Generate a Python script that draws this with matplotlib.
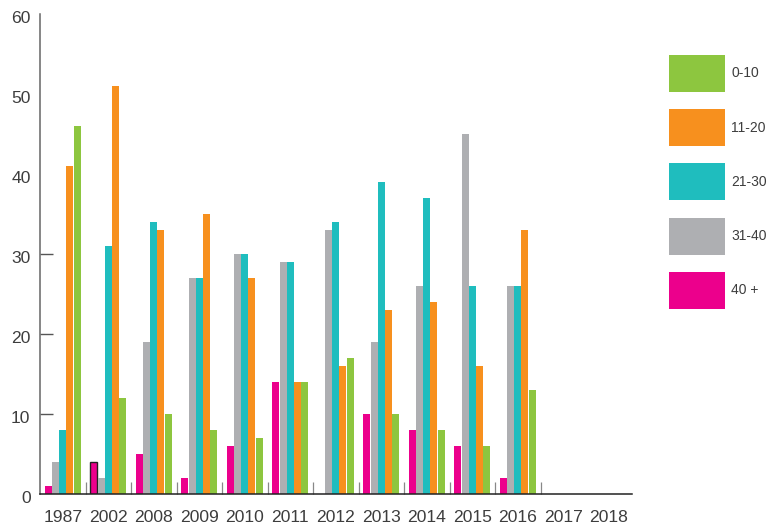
import matplotlib
matplotlib.use("Agg")
import matplotlib.pyplot as plt
import matplotlib.transforms as mtransforms
import numpy as np

years = ["1987", "2002", "2008", "2009", "2010", "2011", "2012", "2013", "2014", "2015", "2016", "2017", "2018"]
series_names = ["40 +", "31-40", "21-30", "11-20", "0-10"]
v_40plus = [1, 4, 5, 2, 6, 14, 0, 10, 8, 6, 2, 0, 0]
v_31_40 = [4, 2, 19, 27, 30, 29, 33, 19, 26, 45, 26, 0, 0]
v_21_30 = [8, 31, 34, 27, 30, 29, 34, 39, 37, 26, 26, 0, 0]
v_11_20 = [41, 51, 33, 35, 27, 14, 16, 23, 24, 16, 33, 0, 0]
v_0_10 = [46, 12, 10, 8, 7, 14, 17, 10, 8, 6, 13, 0, 0]
colors = ["#EC008C", "#AEAFB2", "#1FBDBE", "#F7901E", "#8DC63F"]
y_ticks = [0, 10, 20, 30, 40, 50, 60]

series = [v_40plus, v_31_40, v_21_30, v_11_20, v_0_10]

W, H = 773, 527
fig = plt.figure(figsize=(W / 100, H / 100), dpi=100)
ax = fig.add_axes([40 / W, 1 - 494 / H, (631.5 - 40) / W, (494 - 14) / H])

x = np.arange(len(years))
step = 7.2 / 45.5
width = step * 0.97
containers = []
for i, (vals, col) in enumerate(zip(series, colors)):
    c = ax.bar(x + (i - 2) * step, vals, width=width, color=col, linewidth=0, label=series_names[i])
    containers.append(c)

# outlined 2002 "40 +" bar as in the reference
bar2002 = containers[0].patches[1]
bar2002.set_edgecolor("#222222")
bar2002.set_linewidth(1.0)

ax.set_xlim(-0.5, len(years) - 0.5)
ax.set_ylim(0, 60)

for s in ["top", "right"]:
    ax.spines[s].set_visible(False)
ax.spines["left"].set_color("#666666")
ax.spines["left"].set_linewidth(1.1)
ax.spines["bottom"].set_color("#222222")
ax.spines["bottom"].set_linewidth(1.1)

# x ticks at group boundaries
ax.set_xticks(np.arange(0.5, 11.0, 1.0))
ax.set_xticklabels([])
ax.tick_params(axis="x", direction="in", length=8.6, width=0.9, color="#888888")

# y ticks only at 10, 20, 30
ax.set_yticks([10, 20, 30])
ax.set_yticklabels([])
ax.tick_params(axis="y", direction="in", length=9.4, width=1.0, color="#555555")

txt_color = "#3d3d3d"
font = ["Liberation Sans", "DejaVu Sans"]

# y labels
ytrans = mtransforms.blended_transform_factory(fig.transFigure, ax.transData)
ytrans = mtransforms.offset_copy(ytrans, fig=fig, y=-4.5, units="dots")
for v in y_ticks:
    ax.text(30.5 / W, v, str(v), transform=ytrans, ha="right", va="center",
            fontsize=12.6, color=txt_color, family=font, clip_on=False)

# x labels
xtrans = mtransforms.blended_transform_factory(ax.transData, fig.transFigure)
for xi, lab in zip(x, years):
    ax.text(xi, 1 - 517 / H, lab, transform=xtrans, ha="center", va="center",
            fontsize=12.6, color=txt_color, family=font, clip_on=False)

# legend (top: 0-10 ... bottom: 40 +)
handles = containers[::-1]
labels = series_names[::-1]
fs = 10.0
fs_px = fs * 100 / 72
hh = (37 / fs_px - 0.245) / 0.65
leg = fig.legend(handles, labels, loc="upper left",
                 bbox_to_anchor=(669 / W, 1 - 55 / H),
                 frameon=False, borderpad=0, borderaxespad=0,
                 handlelength=56 / fs_px, handleheight=hh,
                 labelspacing=17.2 / fs_px, handletextpad=6 / fs_px,
                 prop={"family": font, "size": fs})
for t in leg.get_texts():
    t.set_color(txt_color)
for p in leg.get_patches():
    p.set_edgecolor("none")

fig.savefig("out.png", dpi=100)
